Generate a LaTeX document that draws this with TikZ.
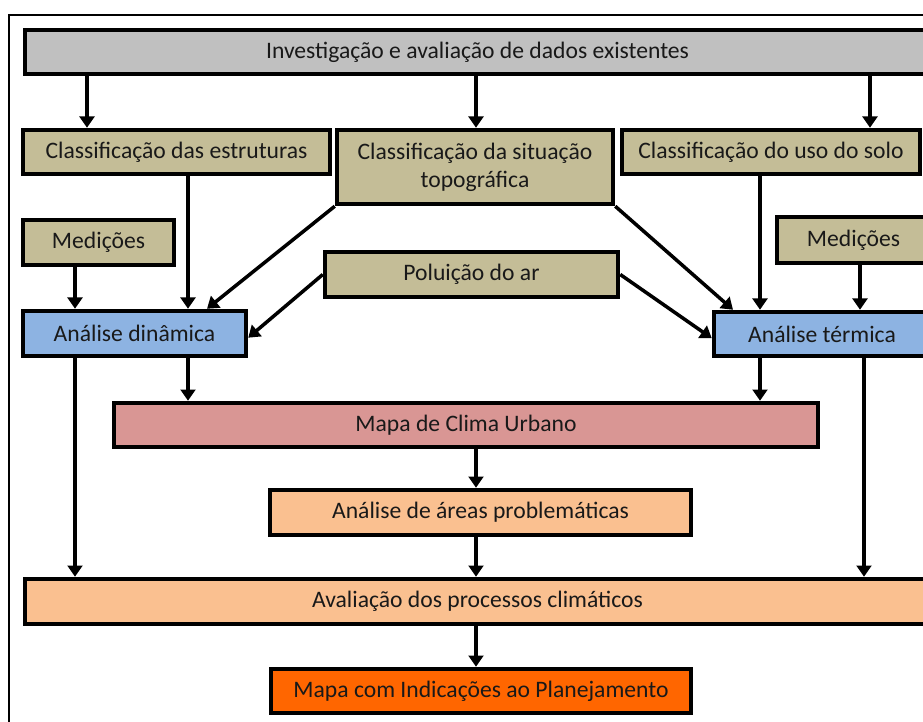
\documentclass[tikz,border=0pt]{standalone}
\usepackage{fontspec}
\setmainfont{Carlito}
\usepackage{tikz}
\usetikzlibrary{arrows.meta}

\definecolor{boxgray}{HTML}{C0C0C0}
\definecolor{boxtan}{HTML}{C4BD97}
\definecolor{boxblue}{HTML}{8DB3E2}
\definecolor{boxpink}{HTML}{D99694}
\definecolor{boxpeach}{HTML}{FAC090}
\definecolor{boxorange}{HTML}{FF6600}

\tikzset{
  etapa/.style={draw=black, line width=3.2pt, rectangle, inner sep=0pt, align=center,
    font=\fontsize{16.8}{20}\selectfont, text=black!90},
  seta/.style={line width=2.5pt, -{Triangle[length=8pt,width=10.5pt]}},
}

\begin{document}
\begin{tikzpicture}[x=0.025cm, y=-0.025cm]
         \useasboundingbox (0,0) rectangle (923,722);
         \clip (0,0) rectangle (923,722);
         \draw[black, line width=0.8pt] (9,760) -- (9,15) -- (960,15);

         % caixas
         \node[etapa, fill=boxgray, minimum width=905*0.025cm, minimum height=44*0.025cm] (dados) at (477.5,52) {Investigação e avaliação de dados existentes};
         \node[etapa, fill=boxtan, minimum width=307*0.025cm, minimum height=44*0.025cm] (estruturas) at (176.5,152) {Classificação das estruturas};
         \node[etapa, fill=boxtan, minimum width=276*0.025cm, minimum height=74*0.025cm] (topo) at (475,167) {Classificação da situação\\topográfica};
         \node[etapa, fill=boxtan, minimum width=298*0.025cm, minimum height=44*0.025cm] (solo) at (771,152) {Classificação do uso do solo};
         \node[etapa, fill=boxtan, minimum width=151*0.025cm, minimum height=45*0.025cm] (medA) at (98.5,242.5) {Medições};
         \node[etapa, fill=boxtan, minimum width=153*0.025cm, minimum height=46*0.025cm] (medB) at (853.5,240) {Medições};
         \node[etapa, fill=boxtan, minimum width=293*0.025cm, minimum height=45*0.025cm] (ar) at (471.5,274.5) {Poluição do ar};
         \node[etapa, fill=boxblue, minimum width=223*0.025cm, minimum height=45*0.025cm] (dinamica) at (134.5,333.5) {Análise dinâmica};
         \node[etapa, fill=boxblue, minimum width=216*0.025cm, minimum height=44*0.025cm] (termica) at (822,334) {Análise térmica};
         \node[etapa, fill=boxpink, minimum width=704*0.025cm, minimum height=44*0.025cm] (clima) at (466,425) {Mapa de Clima Urbano};
         \node[etapa, fill=boxpeach, minimum width=421*0.025cm, minimum height=45*0.025cm] (areas) at (480.5,512.5) {Análise de áreas problemáticas};
         \node[etapa, fill=boxpeach, minimum width=905*0.025cm, minimum height=45*0.025cm] (processos) at (477.5,601.5) {Avaliação dos processos climáticos};
         \node[etapa, fill=boxorange, minimum width=420*0.025cm, minimum height=44*0.025cm] (plano) at (481,691) {Mapa com Indicações ao Planejamento};

         % setas
         \draw[seta] (dados.south -| 87,0) -- (estruturas.north -| 87,0);
         \draw[seta] (dados.south -| 476,0) -- (topo.north -| 476,0);
         \draw[seta] (dados.south -| 870,0) -- (solo.north -| 870,0);

         \draw[seta] (medA.south -| 75,0) -- (dinamica.north -| 75,0);
         \draw[seta] (estruturas.south -| 188,0) -- (dinamica.north -| 188,0);
         \draw[seta] (topo.south west) -- (dinamica.north -| 207,0);
         \draw[seta] (ar.west) -- ([yshift=-3]dinamica.east);

         \draw[seta] (topo.south east) -- (termica.north -| 733,0);
         \draw[seta] (ar.east) -- ([yshift=-3]termica.west);
         \draw[seta] (solo.south -| 760,0) -- (termica.north -| 760,0);
         \draw[seta] (medB.south -| 860,0) -- (termica.north -| 860,0);

         \draw[seta] (dinamica.south -| 188,0) -- (clima.north -| 188,0);
         \draw[seta] (termica.south -| 760,0) -- (clima.north -| 760,0);
         \draw[seta] (dinamica.south -| 75,0) -- (processos.north -| 75,0);
         \draw[seta] (termica.south -| 864,0) -- (processos.north -| 864,0);

         \draw[seta] (clima.south -| 476,0) -- (areas.north -| 476,0);
         \draw[seta] (areas.south -| 476,0) -- (processos.north -| 476,0);
         \draw[seta] (processos.south -| 476,0) -- (plano.north -| 476,0);
    \end{tikzpicture}
\end{document}
